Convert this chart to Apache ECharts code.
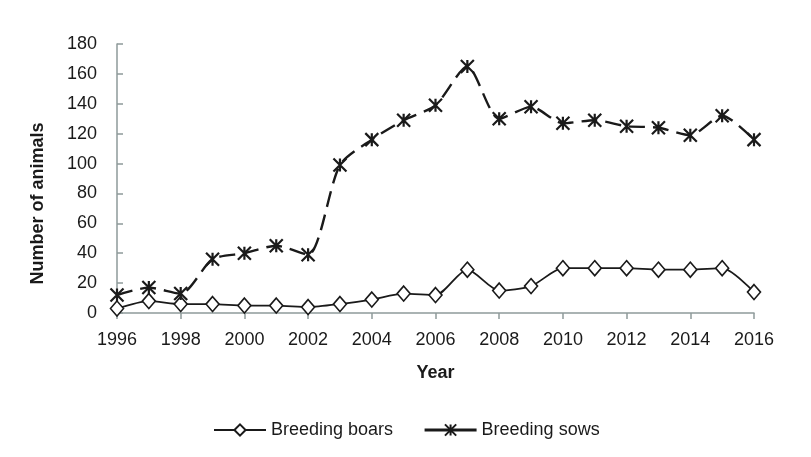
<!DOCTYPE html>
<html>
<head>
<meta charset="utf-8">
<script src="https://cdn.jsdelivr.net/npm/echarts@6/dist/echarts.min.js"></script>
<style>
  html, body { margin: 0; padding: 0; background: #fff; }
  #chart { width: 811px; height: 457px; }
</style>
</head>
<body>
<div id="chart"></div>
<script>
// years on the x axis
var years = ['1996', '1997', '1998', '1999', '2000', '2001', '2002', '2003', '2004', '2005', '2006',
             '2007', '2008', '2009', '2010', '2011', '2012', '2013', '2014', '2015', '2016'];
// number of animals
var boars = [3, 8, 6, 6, 5, 5, 4, 6, 9, 13, 12, 29, 15, 18, 30, 30, 30, 29, 29, 30, 14];
var sows  = [12, 17, 13, 36, 40, 45, 39, 99, 116, 129, 139, 165, 130, 138, 127, 129, 125, 124, 119, 132, 116];

var FONT = '"Liberation Sans", Arial, sans-serif';
var INK = '#1a1a1a';
var AXIS = '#8e9a9a';
// asterisk marker: X with a vertical bar
var STAR = 'path://M0,0L10,10M10,0L0,10M5,0L5,10';

var myChart = echarts.init(document.getElementById('chart'));
myChart.setOption({
    animation: false,
    backgroundColor: '#fff',
    grid: { left: 117, right: 57, top: 44, bottom: 144 },
    legend: {
        left: 208,
        top: 416,
        itemWidth: 52,
        itemHeight: 14,
        itemGap: 30,
        textStyle: { fontFamily: FONT, fontSize: 18, color: INK },
        data: [
            { name: 'Breeding boars' },
            { name: 'Breeding sows', lineStyle: { type: 'solid', width: 3 } }
        ]
    },
    xAxis: {
        type: 'category',
        boundaryGap: false,
        data: years,
        name: 'Year',
        nameLocation: 'middle',
        nameGap: 51,
        nameTextStyle: { fontFamily: FONT, fontSize: 18, fontWeight: 'bold', color: INK },
        axisLine: { lineStyle: { color: AXIS, width: 1.5 } },
        axisTick: { interval: 1, length: 6, lineStyle: { color: AXIS, width: 1.5 } },
        axisLabel: { interval: 1, margin: 18, fontFamily: FONT, fontSize: 18, color: INK }
    },
    yAxis: {
        type: 'value',
        min: 0,
        max: 180,
        interval: 20,
        name: 'Number of animals',
        nameLocation: 'middle',
        nameGap: 70,
        nameTextStyle: { fontFamily: FONT, fontSize: 18, fontWeight: 'bold', color: INK, padding: [0, 50, 0, 0] },
        splitLine: { show: false },
        axisLine: { show: true, lineStyle: { color: AXIS, width: 1.5 } },
        axisTick: { show: true, inside: true, length: 6, lineStyle: { color: AXIS, width: 1.5 } },
        axisLabel: { margin: 20, fontFamily: FONT, fontSize: 18, color: INK }
    },
    series: [
        {
            name: 'Breeding boars',
            type: 'line',
            data: boars,
            smooth: 0.25,
            symbol: 'diamond',
            symbolSize: [13, 15],
            showAllSymbol: true,
            lineStyle: { color: INK, width: 1.8 },
            itemStyle: { color: '#fff', borderColor: INK, borderWidth: 1.6 }
        },
        {
            name: 'Breeding sows',
            type: 'line',
            data: sows,
            smooth: 0.25,
            symbol: STAR,
            symbolSize: 13,
            showAllSymbol: true,
            lineStyle: { color: INK, width: 2.4, type: [16, 8] },
            itemStyle: { color: 'none', borderColor: INK, borderWidth: 2.2, borderType: 'solid' }
        }
    ]
});
</script>
</body>
</html>
